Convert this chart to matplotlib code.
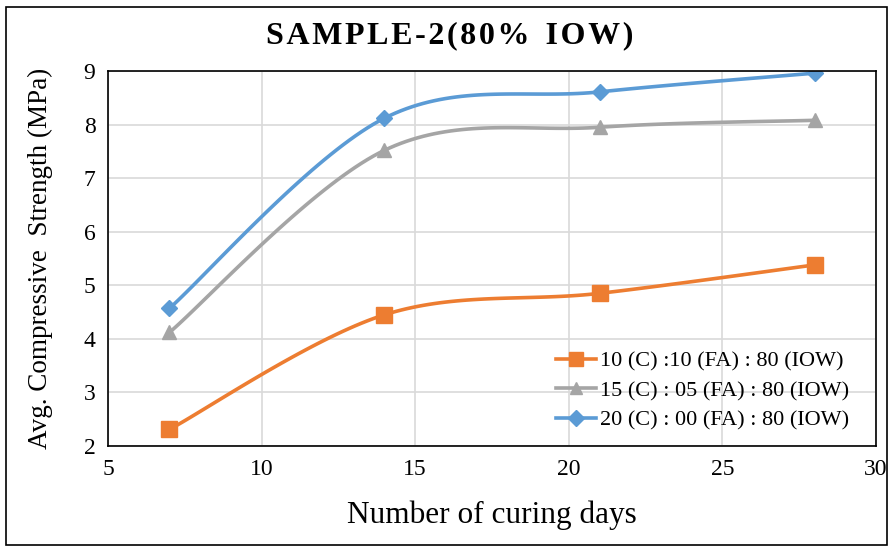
import numpy as np
import matplotlib.pyplot as plt
from matplotlib.patches import Rectangle

plt.rcParams['font.family'] = ['Liberation Serif', 'DejaVu Serif']

# Data
days = [7, 14, 21, 28]
mix_10_10 = [2.31, 4.45, 4.85, 5.38]
mix_15_05 = [4.12, 7.52, 7.95, 8.08]
mix_20_00 = [4.57, 8.12, 8.61, 8.96]
labels = ['10 (C) :10 (FA) : 80 (IOW)',
          '15 (C) : 05 (FA) : 80 (IOW)',
          '20 (C) : 00 (FA) : 80 (IOW)']
colors = ['#ED7D31', '#A5A5A5', '#5B9BD5']
markers = ['s', '^', 'D']
msizes = [11, 10, 8.5]


def smooth(x, y, n=40):
    # Excel-like smoothed line (Catmull-Rom style Bezier between points)
    p = np.column_stack([x, y]).astype(float)
    ext = np.vstack([p[0], p, p[-1]])
    out = []
    t = np.linspace(0, 1, n)[:, None]
    for i in range(len(p) - 1):
        p0, p1, p2, p3 = ext[i], ext[i + 1], ext[i + 2], ext[i + 3]
        c1 = p1 + (p2 - p0) / 6
        c2 = p2 - (p3 - p1) / 6
        seg = ((1 - t) ** 3) * p1 + 3 * ((1 - t) ** 2) * t * c1 \
            + 3 * (1 - t) * t ** 2 * c2 + t ** 3 * p2
        out.append(seg if i == 0 else seg[1:])
    out = np.vstack(out)
    return out[:, 0], out[:, 1]


fig = plt.figure(figsize=(8.94, 5.47), dpi=100)
ax = fig.add_axes([0.1208, 0.1846, 0.8591, 0.6856])

for ys, c, m, ms, lab in zip([mix_10_10, mix_15_05, mix_20_00], colors, markers, msizes, labels):
    sx, sy = smooth(days, ys)
    ax.plot(sx, sy, color=c, lw=2.6, solid_capstyle='round')
    ax.plot(days, ys, ls='none', marker=m, ms=ms, color=c)
    ax.plot([], [], color=c, lw=2.6, marker=m, ms=ms * 0.9, label=lab)

ax.set_xlim(5, 30)
ax.set_ylim(2, 9)
ax.set_xticks(range(5, 31, 5))
ax.set_yticks(range(2, 10))
ax.grid(True, color='#d9d9d9', lw=1.2)
ax.set_axisbelow(True)
ax.tick_params(length=0, labelsize=17, pad=9)
for s in ax.spines.values():
    s.set_color('black')
    s.set_linewidth(1.2)

ax.set_xlabel('Number of curing days', fontsize=22.5, labelpad=15)
ax.set_ylabel('Avg. Compressive  Strength (MPa)', fontsize=19.5, labelpad=22)
title = '\u200a'.join('SAMPLE-2(80%') + '  ' + '\u200a'.join('IOW)')
fig.text(0.503, 0.934, title, ha='center', va='center', fontsize=23, fontweight='bold')

ax.legend(loc='lower right', bbox_to_anchor=(0.985, 0.0), frameon=False, fontsize=16,
          handlelength=1.8, handletextpad=0.15, labelspacing=0.4, borderaxespad=0.3)

fig.patches.append(Rectangle((0.007, 0.003), 0.985, 0.985, transform=fig.transFigure,
                             fill=False, edgecolor='black', lw=1.2))

fig.savefig('out.png', dpi=100)
